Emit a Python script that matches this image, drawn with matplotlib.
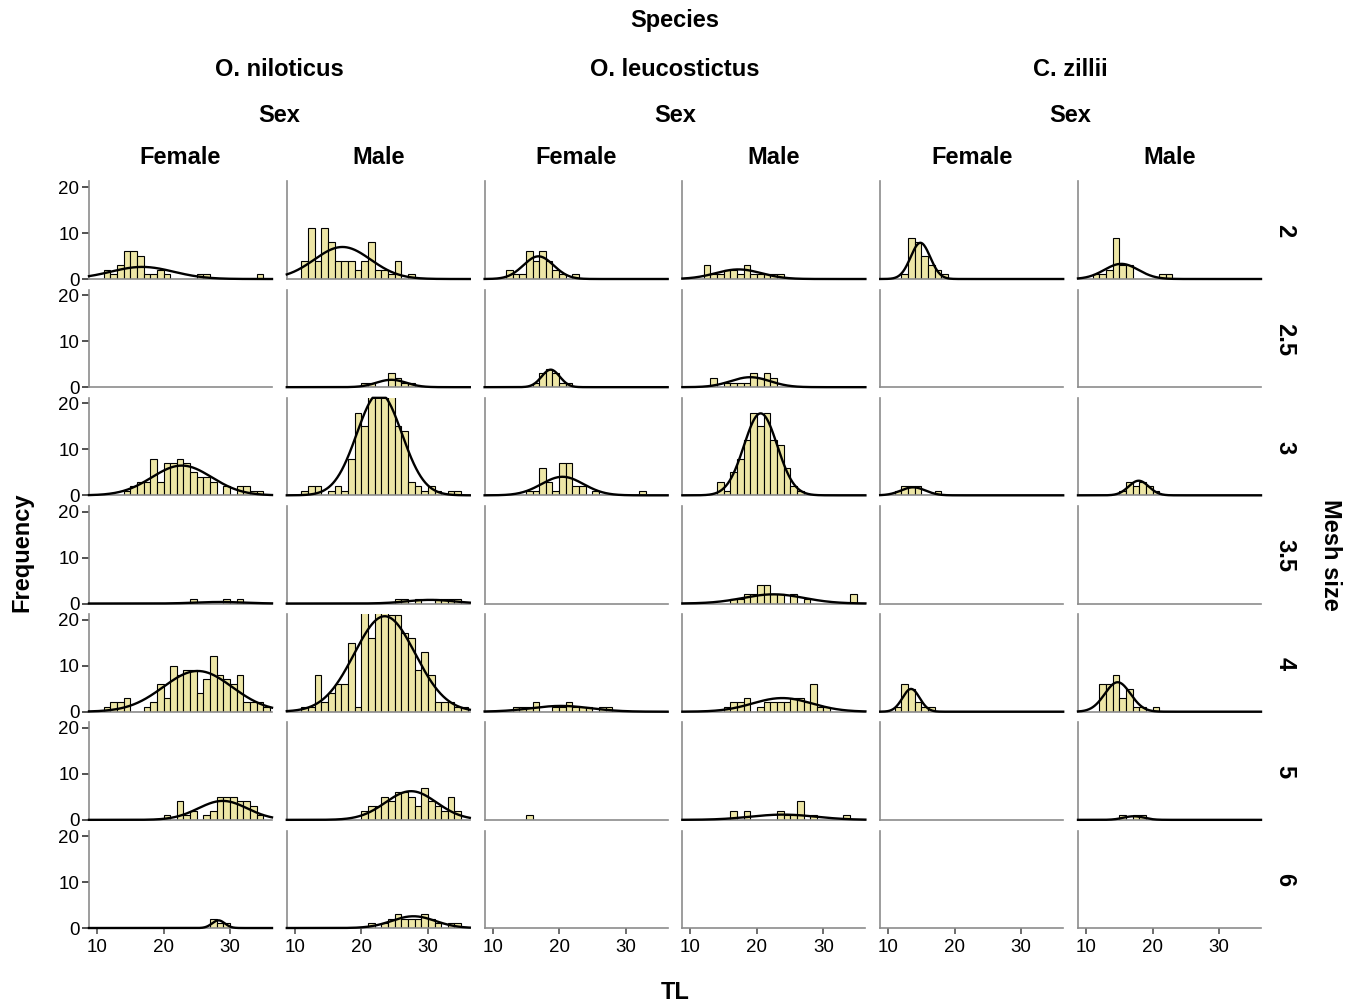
import numpy as np
import matplotlib
matplotlib.use('Agg')
import matplotlib.pyplot as plt

plt.rcParams['font.family'] = ['Liberation Sans', 'DejaVu Sans']

species = ['O. niloticus', 'O. leucostictus', 'C. zillii']
sexes = ['Female', 'Male']
mesh_sizes = [2, 2.5, 3, 3.5, 4, 5, 6]

# histogram counts per mesh size: (first bin, counts of 1 cm bins)
nil_f = {
    2: (11, [2, 1, 3, 6, 6, 5, 1, 1, 2, 1, 0, 0, 0, 0, 1, 1, 0, 0, 0, 0, 0, 0, 0, 1]),
    3: (14, [1, 2, 3, 3, 8, 3, 7, 7, 8, 7, 5, 4, 4, 3, 0, 2, 0, 2, 2, 1, 1]),
    3.5: (24, [1, 0, 0, 0, 0, 1, 0, 1]),
    4: (11, [1, 2, 2, 3, 0, 0, 1, 2, 6, 3, 10, 8, 9, 9, 4, 7, 12, 8, 7, 6, 8, 2, 2, 2, 1]),
    5: (20, [1, 0, 4, 1, 2, 0, 1, 2, 5, 5, 5, 4, 4, 3, 1]),
    6: (27, [2, 1, 1]),
}
nil_m = {
    2: (11, [4, 11, 4, 11, 8, 4, 4, 4, 2, 4, 8, 2, 2, 1, 4, 0, 1]),
    2.5: (20, [1, 1, 0, 0, 3, 2, 1, 1]),
    3: (11, [1, 2, 2, 0, 1, 2, 1, 8, 18, 15, 24, 27, 25, 22, 15, 14, 3, 2, 1, 2, 1, 0, 1, 1]),
    3.5: (25, [1, 1, 0, 1, 0, 0, 1, 1, 1, 1]),
    4: (11, [1, 1, 8, 2, 4, 6, 6, 15, 1, 22, 16, 22, 22, 21, 21, 17, 16, 9, 13, 8, 2, 2, 2, 1, 1]),
    5: (20, [2, 3, 3, 5, 4, 6, 6, 5, 3, 7, 4, 3, 2, 5, 2]),
    6: (21, [1, 0, 1, 2, 3, 2, 2, 2, 3, 2, 1, 0, 1, 1]),
}
leu_f = {
    2: (12, [2, 1, 1, 6, 4, 6, 4, 2, 1, 0, 1]),
    2.5: (16, [1, 3, 4, 3, 1, 1]),
    3: (15, [1, 1, 6, 3, 1, 7, 7, 2, 2, 0, 1, 0, 0, 0, 0, 0, 0, 1]),
    4: (13, [1, 1, 1, 2, 0, 0, 1, 1, 2, 1, 1, 1, 0, 1, 1]),
    5: (15, [1]),
}
leu_m = {
    2: (12, [3, 1, 1, 2, 2, 1, 3, 1, 1, 1, 1, 1]),
    2.5: (13, [2, 0, 1, 1, 1, 1, 3, 2, 3, 2]),
    3: (14, [3, 1, 5, 8, 12, 18, 15, 18, 12, 11, 6, 2, 1]),
    3.5: (16, [1, 1, 2, 2, 4, 4, 2, 2, 0, 2, 0, 1, 0, 0, 0, 0, 0, 0, 2]),
    4: (15, [1, 2, 2, 3, 0, 1, 2, 2, 2, 2, 3, 3, 2, 6, 1, 1]),
    5: (16, [2, 0, 2, 0, 0, 0, 0, 2, 1, 1, 4, 0, 1, 0, 0, 0, 0, 1]),
}
zil_f = {
    2: (12, [1, 9, 8, 5, 3, 2, 1]),
    3: (11, [1, 2, 2, 2, 0, 0, 1]),
    4: (11, [1, 6, 5, 2, 1, 1]),
}
zil_m = {
    2: (11, [1, 1, 2, 9, 3, 3, 0, 0, 0, 0, 1, 1]),
    3: (15, [1, 3, 2, 3, 2, 1]),
    4: (12, [6, 6, 8, 3, 5, 1, 1, 0, 1]),
    5: (15, [1, 0, 1, 1]),
}
columns = [nil_f, nil_m, leu_f, leu_m, zil_f, zil_m]

W, H = 1357, 1005
fig = plt.figure(figsize=(W / 100, H / 100), dpi=100)

xmin, xmax = 8.8, 36.3
ytop = 21.2
bar_col = '#EDE6A6'
spine_col = '#8c8c8c'
fs = 17

for i, mesh in enumerate(mesh_sizes):
    for j, col in enumerate(columns):
        left = 89 + j * 197.8
        bottom = 279 + i * 108.17
        ax = fig.add_axes([left / W, 1 - bottom / H, 183 / W, 97.5 / H])
        ax.set_xlim(xmin, xmax)
        ax.set_ylim(0, ytop)
        for s in ['top', 'right']:
            ax.spines[s].set_visible(False)
        for s in ['left', 'bottom']:
            ax.spines[s].set_color(spine_col)
            ax.spines[s].set_linewidth(1.2)

        if mesh in col:
            start, counts = col[mesh]
            edges = start + np.arange(len(counts))
            counts = np.array(counts)
            ax.bar(edges, counts, width=1, align='edge', color=bar_col,
                   edgecolor='black', linewidth=0.8)
            n = counts.sum()
            if n > 1:
                # normal curve from the binned values
                mids = edges + 0.5
                mu = (counts * mids).sum() / n
                sd = np.sqrt((counts * (mids - mu) ** 2).sum() / (n - 1))
                xs = np.linspace(xmin, xmax, 400)
                ys = n / (sd * np.sqrt(2 * np.pi)) * np.exp(-0.5 * ((xs - mu) / sd) ** 2)
                ax.plot(xs, np.minimum(ys, ytop), color='black', lw=1.7,
                        clip_on=False, zorder=3)

        if j == 0:
            ax.set_yticks([0, 10, 20])
            ax.tick_params(axis='y', length=5, width=1.2, color='#333333',
                           labelsize=13.5, pad=2)
        else:
            ax.set_yticks([])
        if i == len(mesh_sizes) - 1:
            ax.set_xticks([10, 20, 30])
            ax.tick_params(axis='x', length=4, width=1.2, color='#555555',
                           labelsize=13.5, pad=4)
        else:
            ax.set_xticks([])

        if j == 5:
            fig.text(1285 / W, 1 - (bottom - 48) / H, str(mesh), rotation=270,
                     ha='center', va='center', fontsize=fs, fontweight='bold')

# headers
fig.text(675 / W, 1 - 20 / H, 'Species', ha='center', va='center',
         fontsize=fs, fontweight='bold')
for k, sp in enumerate(species):
    cx = 89 + k * 2 * 197.8 + (197.8 + 183) / 2
    fig.text(cx / W, 1 - 70 / H, sp, ha='center', va='center',
             fontsize=fs, fontweight='bold')
    fig.text(cx / W, 1 - 116 / H, 'Sex', ha='center', va='center',
             fontsize=fs, fontweight='bold')
for j in range(6):
    cx = 89 + j * 197.8 + 91.5
    fig.text(cx / W, 1 - 157 / H, sexes[j % 2], ha='center', va='center',
             fontsize=fs, fontweight='bold')

fig.text(22 / W, 1 - 552 / H, 'Frequency', rotation=90, ha='center',
         va='center', fontsize=fs, fontweight='bold')
fig.text(1330 / W, 1 - 555 / H, 'Mesh size', rotation=270, ha='center',
         va='center', fontsize=fs, fontweight='bold')
fig.text(675 / W, 1 - 992 / H, 'TL', ha='center', va='center',
         fontsize=fs, fontweight='bold')

fig.savefig('out.png', dpi=100, facecolor='white')
